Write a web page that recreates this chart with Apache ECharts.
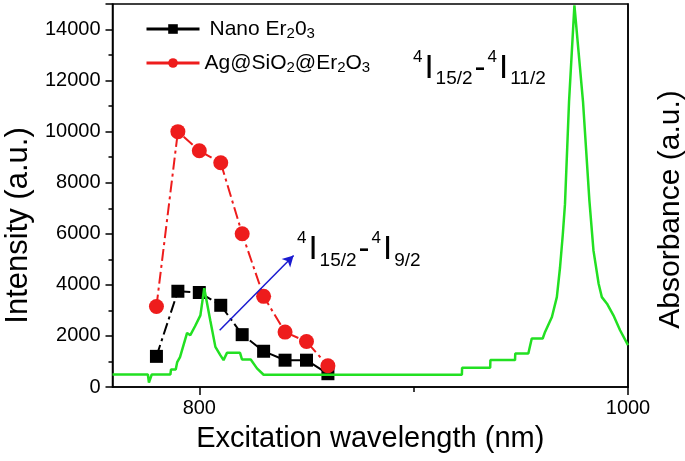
<!DOCTYPE html>
<html><head><meta charset="utf-8">
<script src="https://cdn.jsdelivr.net/npm/echarts@6/dist/echarts.min.js"></script>
<style>html,body{margin:0;padding:0;background:#fff}#c{width:685px;height:461px}</style>
</head><body><div id="c"></div>
<script>
// ---- data ----
const wavelengths = [780, 790, 800, 810, 820, 830, 840, 850, 860];
const nanoEr2O3 = [1200, 3750, 3700, 3200, 2050, 1400, 1050, 1050, 520];
const agSiO2Er2O3 = [3150, 10000, 9250, 8780, 6000, 3550, 2150, 1780, 830];
const absWavelength = [759.5, 776.0, 776.5, 777.3, 777.8, 786.5, 786.8, 789.0, 789.7, 791.0, 792.9, 794.3, 795.8, 798.0, 800.5, 802.3, 805.1, 807.5, 809.8, 811.3, 812.9, 819.0, 819.9, 824.0, 826.9, 830.0, 922.5, 922.6, 935.7, 935.8, 947.3, 947.4, 953.5, 955.1, 960.2, 961.3, 964.5, 966.8, 968.3, 969.6, 970.6, 972.5, 975.0, 979.0, 982.0, 983.9, 986.3, 987.8, 990.2, 993.2, 996.3, 1000];
const absorbance = [490, 490, 170, 170, 490, 490, 690, 690, 975, 1170, 1715, 2117, 2030, 2378, 2807, 3870, 2612, 1571, 1248, 1053, 1337, 1337, 1080, 1080, 729, 480, 480, 753, 753, 1053, 1053, 1313, 1313, 1898, 1898, 2156, 2741, 3520, 4690, 5992, 7161, 11190, 14950, 11190, 7290, 5341, 4043, 3520, 3263, 2807, 2222, 1637];
const xTickLabels = [800, 1000];
const xMinorTicks = [900];
const arrowStart = [809.5, 2220];
const arrowEnd = [844, 5150];

const FONT = 'Liberation Sans, Arial, sans-serif';
const chart = echarts.init(document.getElementById('c'));
const toPairs = (xs, ys) => xs.map((x, i) => [x, ys[i]]);
const dash = [12, 4, 3, 4];

const annoRich = {
  sup: { fontSize: 17, fontFamily: FONT, verticalAlign: 'top', lineHeight: 11, fill: '#000' },
  I: { fontSize: 33, fontFamily: FONT, lineHeight: 40, fill: '#000', padding: [0, 2, 0, 2] },
  sub: { fontSize: 19, fontFamily: FONT, verticalAlign: 'bottom', lineHeight: 2, fill: '#000' }
};

chart.setOption({
  animation: false,
  backgroundColor: '#fff',
  grid: { left: 112.5, right: 57, top: 4, bottom: 74, show: true, borderColor: '#000', borderWidth: 1.5, containLabel: false, outerBoundsMode: 'none' },
  legend: {
    data: ['nano', 'ag'],
    orient: 'vertical', left: 145, top: 17, padding: 0, itemGap: 10,
    itemWidth: 53, itemHeight: 12,
    lineStyle: { type: 'solid', width: 3 },
    formatter: n => n === 'nano' ? '{g|}Nano Er{s|2}0{s|3}' : 'Ag@SiO{s|2}@Er{s|2}O{s|3}',
    textStyle: {
      fontSize: 21, fontFamily: FONT, color: '#000', lineHeight: 24,
      rich: {
        s: { fontSize: 15, fontFamily: FONT, color: '#000', verticalAlign: 'bottom', lineHeight: 6 },
        g: { width: 5 }
      }
    }
  },
  xAxis: [{
    type: 'value', min: 759.5, max: 1000, position: 'bottom',
    axisLine: { lineStyle: { color: '#000', width: 1.5 } },
    axisTick: { customValues: xTickLabels, length: 8, lineStyle: { color: '#000', width: 1.5 } },
    axisLabel: { customValues: xTickLabels, fontSize: 20, fontFamily: FONT, color: '#000', margin: 11, formatter: v => String(v) },
    splitLine: { show: false },
    name: 'Excitation wavelength (nm)', nameLocation: 'middle', nameGap: 37,
    nameTextStyle: { fontSize: 29, fontFamily: FONT, color: '#000' }
  }, {
    type: 'value', min: 759.5, max: 1000, position: 'top', offset: -383,
    axisLine: { show: false },
    axisTick: { customValues: xMinorTicks, inside: true, length: 5, lineStyle: { color: '#000', width: 1.5 } },
    axisLabel: { show: false },
    splitLine: { show: false }
  }],
  yAxis: [{
    type: 'value', min: 0, max: 15000, interval: 2000, position: 'left',
    axisLine: { show: true, lineStyle: { color: '#000', width: 1.5 } },
    axisTick: { show: true, length: 7, lineStyle: { color: '#000', width: 1.5 } },
    minorTick: { show: true, splitNumber: 2, length: 4, lineStyle: { color: '#000', width: 1.5 } },
    axisLabel: { fontSize: 20, fontFamily: FONT, color: '#000', margin: 12, showMaxLabel: false, formatter: v => String(v) },
    splitLine: { show: false },
    name: 'Intensity (a.u.)', nameLocation: 'middle', nameGap: 77,
    nameTextStyle: { fontSize: 31, fontFamily: FONT, color: '#000', padding: [0, 60, 0, 0] }
  }, {
    type: 'value', min: 0, max: 15000, position: 'right',
    axisLine: { show: true, lineStyle: { color: '#000', width: 1.5 } },
    axisTick: { show: false }, axisLabel: { show: false }, splitLine: { show: false },
    name: 'Absorbance (a.u.)', nameLocation: 'middle', nameGap: 28, nameRotate: 90,
    nameTextStyle: { fontSize: 30, fontFamily: FONT, color: '#000', padding: [0, 28, 0, 0] }
  }],
  series: [{
    name: 'nano', type: 'line', data: toPairs(wavelengths, nanoEr2O3),
    symbol: 'rect', symbolSize: 13,
    lineStyle: { color: '#000', width: 2, type: dash },
    itemStyle: { color: '#000' },
    z: 3,
    markLine: {
      silent: true, symbol: ['none', 'arrow'], symbolSize: [9, 11],
      lineStyle: { color: '#1a1ad0', width: 1.5, type: 'solid' },
      label: { show: false },
      data: [[{ coord: arrowStart }, { coord: arrowEnd }]]
    }
  }, {
    name: 'ag', type: 'line', data: toPairs(wavelengths, agSiO2Er2O3),
    symbol: 'circle', symbolSize: 15,
    lineStyle: { color: '#ee1c1c', width: 2, type: dash },
    itemStyle: { color: '#ee1c1c' },
    z: 4
  }, {
    name: 'abs', type: 'line', yAxisIndex: 1, data: toPairs(absWavelength, absorbance),
    symbol: 'none', lineStyle: { color: '#22e022', width: 2.5 },
    z: 5
  }],
  graphic: [{
    type: 'text', left: 413, top: 48.5,
    style: { text: '{sup|4}{I|I}{sub|15/2}{I|-}{sup|4}{I|I}{sub|11/2}', rich: annoRich, fill: '#000' }
  }, {
    type: 'text', left: 297, top: 230,
    style: { text: '{sup|4}{I|I}{sub|15/2}{I|-}{sup|4}{I|I}{sub|9/2}', rich: annoRich, fill: '#000' }
  }]
});
</script></body></html>
